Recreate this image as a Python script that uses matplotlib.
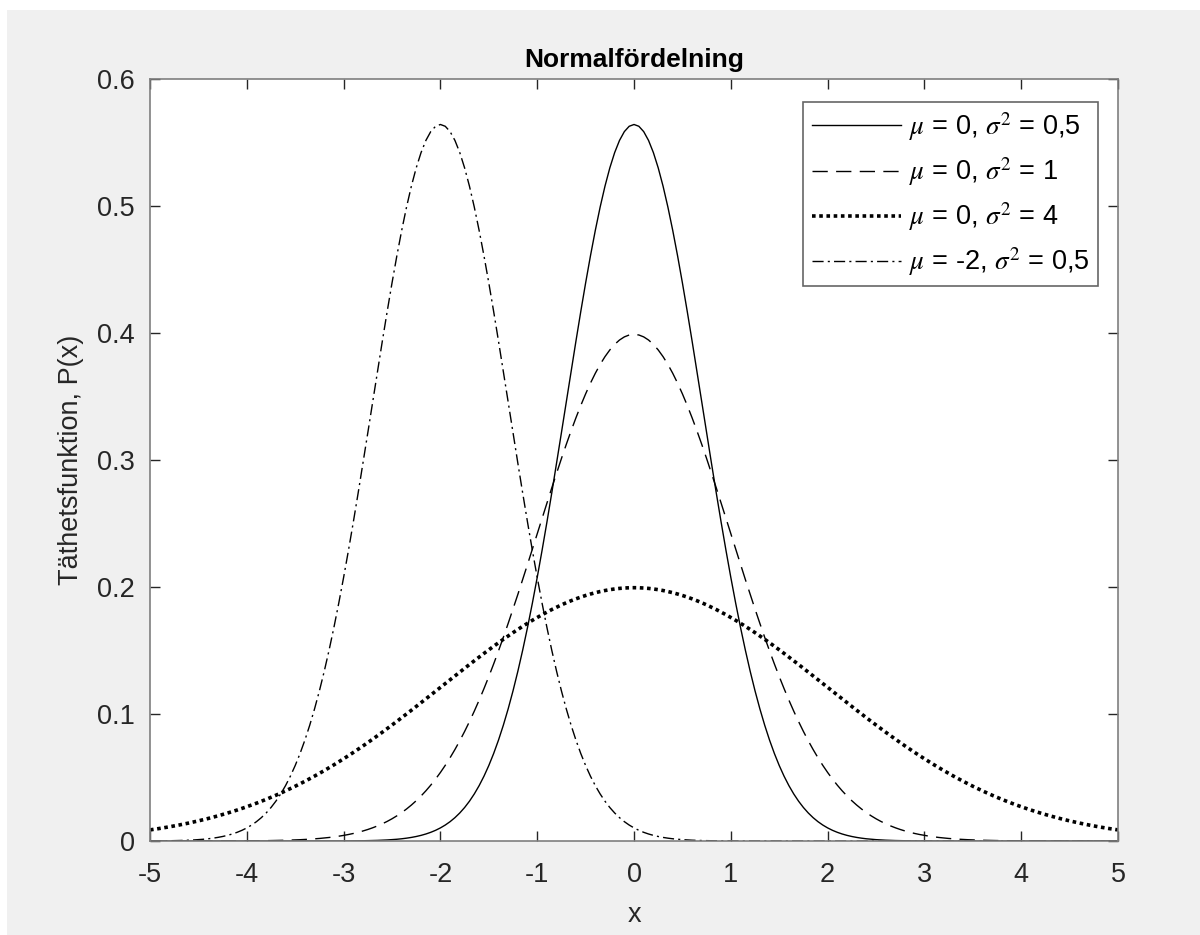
import numpy as np
import matplotlib
matplotlib.use("Agg")
import matplotlib.pyplot as plt
from matplotlib.patches import Rectangle

# Parametrar för de fyra kurvorna (läses av legenden)
mus = [0, 0, 0, -2]
variances = [0.5, 1, 4, 0.5]
labels = [r"$\mu$ = 0, $\sigma^2$ = 0,5",
          r"$\mu$ = 0, $\sigma^2$ = 1",
          r"$\mu$ = 0, $\sigma^2$ = 4",
          r"$\mu$ = -2, $\sigma^2$ = 0,5"]
x_ticks = [-5, -4, -3, -2, -1, 0, 1, 2, 3, 4, 5]
y_ticks = [0, 0.1, 0.2, 0.3, 0.4, 0.5, 0.6]

plt.rcParams["font.family"] = ["Liberation Sans", "DejaVu Sans"]
plt.rcParams["mathtext.fontset"] = "stix"

fig = plt.figure(figsize=(12, 9.35), dpi=100, facecolor="white")
# grå MATLAB-bakgrund med vit kant uppe/vänster
fig.patches.append(Rectangle((7 / 1200, 0), 1, 1 - 10 / 935, transform=fig.transFigure,
                             facecolor="#f0f0f0", edgecolor="none", zorder=-10))
ax = fig.add_axes([0.125, 0.1005, 0.8067, 0.815])

x = np.linspace(-5, 5, 201)
styles = [dict(linestyle="-", linewidth=1.0),
          dict(linestyle=(0, (11, 6)), linewidth=1.0),
          dict(linestyle=(0, (1, 1)), linewidth=2.6),
          dict(linestyle=(0, (8, 3, 1.5, 3)), linewidth=1.0)]
for mu, var, lab, st in zip(mus, variances, labels, styles):
    y = np.exp(-(x - mu) ** 2 / (2 * var)) / np.sqrt(2 * np.pi * var)
    ax.plot(x, y, color="black", label=lab, **st)

ax.set_xlim(-5, 5)
ax.set_ylim(0, 0.6)
ax.set_xticks(x_ticks)
ax.set_yticks(y_ticks)
ax.set_xticklabels([str(t) for t in x_ticks])
ax.set_yticklabels(["0" if t == 0 else f"{t:.1f}" for t in y_ticks])
ax.tick_params(direction="in", length=7, width=1, top=True, right=True,
               labelsize=19.5, colors="#262626")
ax.tick_params(axis="x", pad=15)
ax.tick_params(axis="y", pad=11)
for sp in ax.spines.values():
    sp.set_color("#7f7f7f")
    sp.set_linewidth(1.2)

ax.set_title("Normalfördelning", fontsize=19, fontweight="bold", color="black", pad=9)
ax.set_xlabel("x", fontsize=19.5, color="#262626", labelpad=10)
ax.set_ylabel("Täthetsfunktion, P(x)", fontsize=19.5, color="#262626", labelpad=9)

leg = ax.legend(loc="upper right", fontsize=19.5, frameon=True, fancybox=False,
                handlelength=3.3, handletextpad=0.3, borderpad=0.3,
                labelspacing=0.45, borderaxespad=0, bbox_to_anchor=(0.979, 0.97))
leg.get_frame().set_edgecolor("#3f3f3f")
leg.get_frame().set_linewidth(1.2)

fig.savefig("out.png", dpi=100, facecolor=fig.get_facecolor())
